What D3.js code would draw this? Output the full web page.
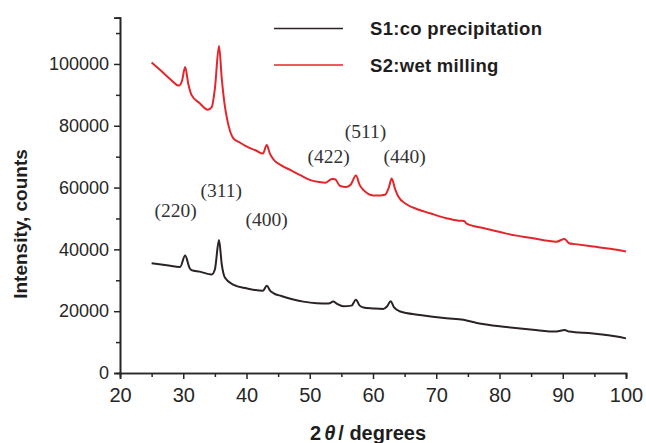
<!DOCTYPE html>
<html>
<head>
<meta charset="utf-8">
<script src="https://cdn.jsdelivr.net/npm/d3@7"></script>
<style>
  html, body { margin: 0; padding: 0; background: #fff; }
  svg { display: block; }
</style>
</head>
<body>
<svg id="chart" width="646" height="443"></svg>
<script>
// ---- data ----
const s2Angle = [25.0,26.5,28.0,29.3,29.8,30.3,30.8,31.3,32.6,33.9,34.5,35.0,35.65,36.1,36.5,37.0,37.9,39.0,40.0,41.5,42.6,43.2,43.7,44.3,45.5,46.9,48.5,50.0,51.5,52.5,53.5,54.0,54.8,55.8,56.5,57.3,57.9,58.6,59.5,60.5,61.9,62.5,62.95,63.5,64.0,65.3,67.0,69.0,71.6,73.5,74.4,74.8,77.4,81.1,85.3,89.0,90.3,91.0,92.0,94.8,97.5,100.0];
const s2Counts = [100500,97800,95000,93000,94500,99000,93500,90000,87300,85200,86000,92000,105800,95000,87500,81500,76000,74500,73300,72000,71000,73800,71000,69000,67200,65700,64000,62500,61800,61600,62800,62700,60500,60200,61000,63900,60800,59000,57700,57400,57700,60000,62900,59500,57100,54600,53000,51700,50100,49300,49200,48300,46900,45100,43600,42500,43400,42000,41700,40900,40200,39300];

const s1Angle = [25.0,27.4,29.5,30.3,31.0,31.3,32.6,34.5,35.0,35.65,36.1,36.6,37.9,40.0,42.6,43.2,43.8,44.3,45.5,47.4,49.0,51.1,53.0,53.7,54.3,55.3,56.6,57.3,57.9,58.5,60.0,61.6,62.2,62.8,63.3,64.3,67.4,71.6,74.3,76.4,81.1,85.3,89.0,90.3,91.0,94.8,97.5,100.0];
const s1Counts = [35500,34900,34300,38000,34000,33300,32800,31900,33500,43000,35000,30800,28600,27400,26600,28200,26500,25800,24900,23800,23100,22600,22500,23100,22400,21600,21800,23700,21800,21200,20900,20700,21500,23200,21300,19900,18800,17700,17200,16200,14900,14000,13400,13900,13400,12800,12100,11200];

const seriesNames = ["S1:co precipitation", "S2:wet milling"];
const xTicks = [20,30,40,50,60,70,80,90,100];
const yTicks = [0,20000,40000,60000,80000,100000];
const peakLabels = ["(220)","(311)","(400)","(422)","(511)","(440)"];
const peakLabelAngle = [28.8, 36.0, 43.2, 53.0, 58.8, 65.0];
const peakLabelCounts = [50500, 57000, 47500, 68000, 76000, 68000];

// ---- layout ----
const svg = d3.select("#chart");
const x = d3.scaleLinear().domain([20, 100]).range([120, 626]);
const y = d3.scaleLinear().domain([0, 115000]).range([373, 17.6]);
const ink = "#262626";

// axes
const xAxis = svg.append("g").attr("transform", "translate(0,373)");
xAxis.call(d3.axisBottom(x).tickValues(xTicks).tickSize(6).tickPadding(4).tickFormat(d3.format("d")));
xAxis.append("g").call(d3.axisBottom(x).tickValues(d3.range(25, 100, 10)).tickSize(4).tickFormat(""));
xAxis.selectAll(".domain").attr("stroke", ink).attr("stroke-width", 1.6);
xAxis.selectAll(".tick line").attr("stroke", ink).attr("stroke-width", 1.5);
xAxis.selectAll(".tick text").attr("fill", ink).style("font-family", "Liberation Sans, Arial, sans-serif").style("font-size", "20px").attr("dy", "0.95em");

const yAxis = svg.append("g").attr("transform", "translate(120,0)");
yAxis.call(d3.axisLeft(y).tickValues(yTicks).tickSize(6).tickPadding(5).tickFormat(d3.format("d")));
yAxis.append("g").call(d3.axisLeft(y).tickValues(d3.range(10000, 115000, 20000)).tickSize(4).tickFormat(""));
yAxis.selectAll(".domain").attr("stroke", ink).attr("stroke-width", 1.6);
yAxis.selectAll(".tick line").attr("stroke", ink).attr("stroke-width", 1.5);
yAxis.selectAll(".tick text").attr("fill", ink).style("font-family", "Liberation Sans, Arial, sans-serif").style("font-size", "18px");

// lines
const line = d3.line().x(d => x(d[0])).y(d => y(d[1])).curve(d3.curveMonotoneX);
const s1 = s1Angle.map((a, i) => [a, s1Counts[i]]);
const s2 = s2Angle.map((a, i) => [a, s2Counts[i]]);
svg.append("path").datum(s2).attr("d", line).attr("fill", "none")
  .attr("stroke", "#e3262b").attr("stroke-width", 2).attr("stroke-linejoin", "round");
svg.append("path").datum(s1).attr("d", line).attr("fill", "none")
  .attr("stroke", "#2b2222").attr("stroke-width", 2).attr("stroke-linejoin", "round");

// peak labels
svg.append("g").selectAll("text").data(peakLabels).join("text")
  .attr("x", (d, i) => x(peakLabelAngle[i]))
  .attr("y", (d, i) => y(peakLabelCounts[i]))
  .attr("text-anchor", "middle")
  .attr("fill", "#333")
  .style("font-family", "Liberation Serif, Times New Roman, serif")
  .style("font-size", "19.5px")
  .text(d => d);

// legend
const legend = svg.append("g");
const legColors = ["#2b2222", "#e3262b"];
const legY = [28.5, 65];
seriesNames.forEach((name, i) => {
  legend.append("line").attr("x1", 274).attr("x2", 343).attr("y1", legY[i]).attr("y2", legY[i])
    .attr("stroke", legColors[i]).attr("stroke-width", 1.5);
  legend.append("text").attr("x", 370).attr("y", legY[i] + 6.5)
    .attr("fill", "#1e1e1e")
    .style("font-family", "Liberation Sans, Arial, sans-serif")
    .style("font-weight", "bold").style("font-size", "18.5px")
    .style("letter-spacing", "0.3px")
    .text(name);
});

// axis titles
svg.append("text")
  .attr("transform", "translate(27,224) rotate(-90)")
  .attr("text-anchor", "middle")
  .attr("fill", "#1e1e1e")
  .style("font-family", "Liberation Sans, Arial, sans-serif")
  .style("font-weight", "bold").style("font-size", "19px")
  .text("Intensity, counts");

const xt = svg.append("text").attr("x", 310).attr("y", 440)
  .attr("fill", "#1e1e1e")
  .style("font-family", "Liberation Sans, Arial, sans-serif")
  .style("font-weight", "bold").style("font-size", "20px");
xt.append("tspan").text("2");
xt.append("tspan").attr("dx", 3).style("font-style", "italic").text("θ");
xt.append("tspan").attr("dx", 3).text("/ degrees");
</script>
</body>
</html>
